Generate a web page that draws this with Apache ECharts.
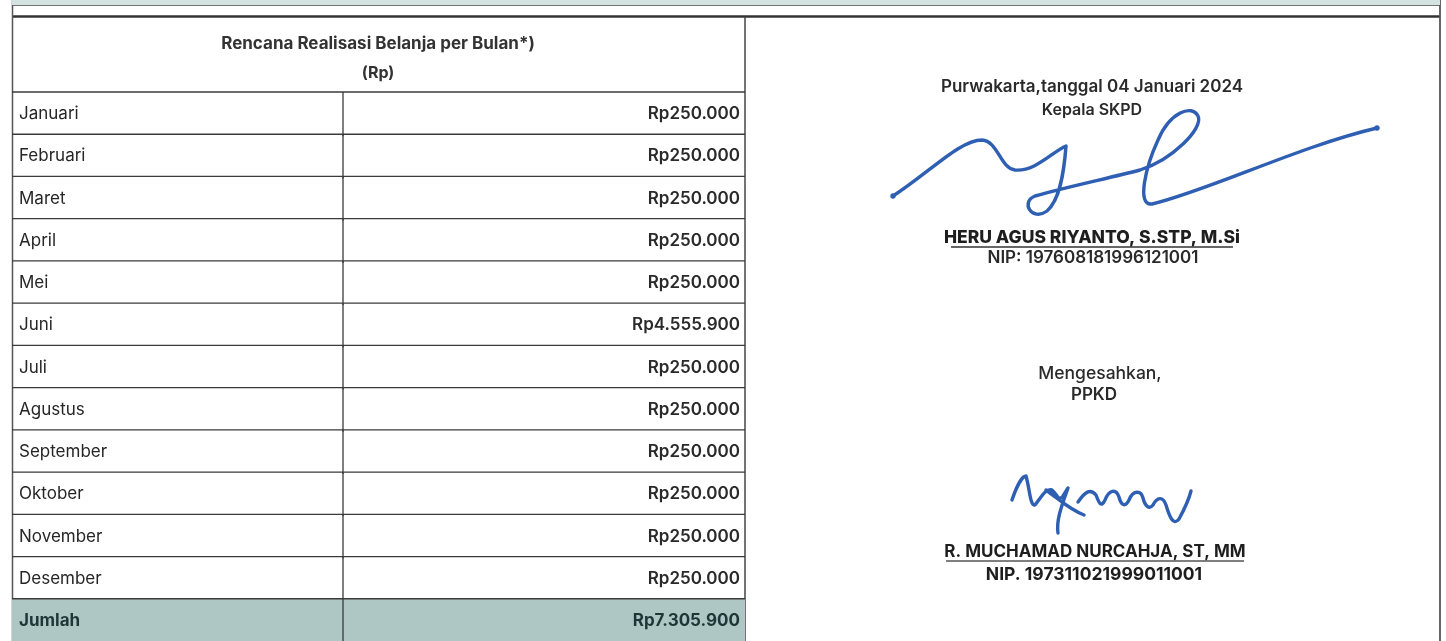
<!DOCTYPE html>
<html><head><meta charset="utf-8">
<script src="https://cdn.jsdelivr.net/npm/echarts@6/dist/echarts.min.js"></script>
<style>html,body{margin:0;padding:0;background:#fff}#c{width:1446px;height:641px}</style>
</head><body><div id="c"></div>
<script>
// ---- data ----
const months = ['Januari','Februari','Maret','April','Mei','Juni','Juli','Agustus','September','Oktober','November','Desember'];
const monthlyValues = [250000,250000,250000,250000,250000,4555900,250000,250000,250000,250000,250000,250000];
const totalLabel = 'Jumlah';
const totalValue = 7305900;
const headerTitle = 'Rencana Realisasi Belanja per Bulan*)';
const headerUnit = '(Rp)';
const place = 'Purwakarta,tanggal 04 Januari 2024';
const role1 = 'Kepala SKPD';
const name1 = 'HERU AGUS RIYANTO, S.STP, M.Si';
const nip1 = 'NIP: 197608181996121001';
const approve = 'Mengesahkan,';
const role2 = 'PPKD';
const name2 = 'R. MUCHAMAD NURCAHJA, ST, MM';
const nip2 = 'NIP. 197311021999011001';

const rows = months.concat([totalLabel]);
const values = monthlyValues.concat([totalValue]);

function rp(v){ return 'Rp' + String(v).replace(/\B(?=(\d{3})+(?!\d))/g, '.'); }

const FONT = 'Inter, Roboto, "Noto Sans", sans-serif';
const LINE = '#3a3a3a';
const INK = '#2f5fb3';
const chart = echarts.init(document.getElementById('c'), null, {renderer:'canvas'});

const colFrac = 331/733;
const sig1 = 'M893,196 C930,172 960,140 982,140 C998,141 1000,168 1015,170 C1035,172 1052,152 1066,146 C1064,172 1060,200 1047,211 C1032,222 1020,202 1035,196 C1070,186 1110,178 1140,170 C1172,160 1204,128 1198,116 C1192,104 1170,112 1158,140 C1146,166 1136,206 1152,204 C1205,192 1300,146 1377,128';
const sig2 = 'M1012,500 C1016,488 1022,476 1026,476 C1030,490 1030,506 1035,505 C1041,498 1045,488 1052,490 C1058,495 1058,502 1063,496 L1068,488 C1062,505 1056,520 1058,533 M1046,490 C1060,500 1070,510 1084,515 M1078,502 C1085,492 1090,488 1096,495 C1099,503 1101,508 1105,500 C1109,490 1116,488 1119,497 C1121,505 1125,508 1129,500 C1133,490 1141,490 1143,498 C1145,506 1149,510 1153,505 C1157,497 1163,496 1166,505 C1169,515 1173,527 1179,519 C1185,508 1189,499 1191,491';

chart.setOption({
  backgroundColor:'#ffffff',
  animation:false,
  grid:{left:12, top:92, width:733, bottom:-1},
  xAxis:{type:'value', min:0, max:1, show:false},
  yAxis:{type:'category', data:rows, inverse:true, show:false},
  series:[{
    type:'custom',
    data: values.map((v,i)=>[0, i, v]),
    encode:{x:0, y:1},
    renderItem(params, api){
      const cs = params.coordSys;
      const i = api.value(1);
      const c = api.coord([0, i]);
      const h = api.size([0, 1])[1];
      const top = c[1] - h/2, bot = c[1] + h/2;
      const isTotal = i === rows.length - 1;
      const xDiv = cs.x + cs.width*colFrac;
      const xR = cs.x + cs.width;
      const ch = [];
      if (isTotal) ch.push({type:'rect', shape:{x:cs.x, y:top, width:cs.width, height:h+2}, style:{fill:'#aec7c5'}});
      ch.push({type:'line', shape:{x1:cs.x, y1:top, x2:xR, y2:top}, style:{stroke:LINE, lineWidth:1.3}});
      ch.push({type:'line', shape:{x1:xDiv, y1:top, x2:xDiv, y2:bot+2}, style:{stroke:LINE, lineWidth:1.3}});
      ch.push({type:'text', style:{text:rows[i], x:cs.x+7, y:c[1]+1, verticalAlign:'middle', align:'left',
        font:(isTotal?'bold ':'normal ')+'17px '+FONT, fill:isTotal?'#1f3636':'#262626'}});
      ch.push({type:'text', style:{text:rp(api.value(2)), x:xR-5, y:c[1]+1, verticalAlign:'middle', align:'right',
        font:(isTotal?'bold ':'600 ')+'17px '+FONT, fill:isTotal?'#1f3636':'#2a2a2a'}});
      return {type:'group', children:ch};
    }
  },{
    type:'custom',
    coordinateSystem:'none',
    data:[0],
    silent:true,
    renderItem(){
      const st = {fill:null, stroke:INK, lineWidth:3.4, lineCap:'round', lineJoin:'round'};
      return {type:'group', children:[
        {type:'path', shape:{pathData:sig1}, style:st},
        {type:'circle', shape:{cx:893, cy:196, r:2.7}, style:{fill:INK}},
        {type:'circle', shape:{cx:1377, cy:128, r:2.7}, style:{fill:INK}},
        {type:'path', shape:{pathData:sig2}, style:st}
      ]};
    }
  }],
  graphic:[
    {type:'rect', shape:{x:12, y:0, width:1428, height:5}, style:{fill:'#d3e3df'}, z:1},
    {type:'line', shape:{x1:12, y1:5, x2:1440, y2:5}, style:{stroke:'#444', lineWidth:1.5}},
    {type:'line', shape:{x1:1316, y1:0, x2:1316, y2:5}, style:{stroke:'#444', lineWidth:1.2}},
    {type:'line', shape:{x1:12, y1:16.5, x2:1440, y2:16.5}, style:{stroke:'#333', lineWidth:2.5}},
    {type:'line', shape:{x1:12.5, y1:0, x2:12.5, y2:641}, style:{stroke:'#555', lineWidth:1.5}},
    {type:'line', shape:{x1:1440, y1:0, x2:1440, y2:641}, style:{stroke:'#555', lineWidth:1.8}},
    {type:'line', shape:{x1:745, y1:17, x2:745, y2:641}, style:{stroke:'#444', lineWidth:1.5}},
    {type:'text', style:{text:headerTitle, x:378, y:44, align:'center', verticalAlign:'middle', font:'bold 17px '+FONT, fill:'#333'}},
    {type:'text', style:{text:headerUnit, x:378, y:73, align:'center', verticalAlign:'middle', font:'bold 16px '+FONT, fill:'#333'}},

    {type:'text', style:{text:place, x:1092, y:87, align:'center', verticalAlign:'middle', font:'600 17px '+FONT, fill:'#2a2a2a'}},
    {type:'text', style:{text:role1, x:1092, y:110, align:'center', verticalAlign:'middle', font:'600 16px '+FONT, fill:'#2a2a2a'}},
    {type:'text', style:{text:name1, x:1092, y:238, align:'center', verticalAlign:'middle', font:'800 17.5px '+FONT, fill:'#1e1e1e'}},
    {type:'line', shape:{x1:951, y1:247, x2:1233, y2:247}, style:{stroke:'#333', lineWidth:1.4}},
    {type:'text', style:{text:nip1, x:1093, y:258, align:'center', verticalAlign:'middle', font:'600 17px '+FONT, fill:'#2a2a2a'}},

    {type:'text', style:{text:approve, x:1100, y:374, align:'center', verticalAlign:'middle', font:'500 17.5px '+FONT, fill:'#2a2a2a'}},
    {type:'text', style:{text:role2, x:1094, y:395, align:'center', verticalAlign:'middle', font:'600 17px '+FONT, fill:'#2a2a2a'}},
    {type:'text', style:{text:name2, x:1095, y:552, align:'center', verticalAlign:'middle', font:'bold 17px '+FONT, fill:'#1e1e1e'}},
    {type:'line', shape:{x1:946, y1:561, x2:1244, y2:561}, style:{stroke:'#555', lineWidth:1.4}},
    {type:'text', style:{text:nip2, x:1094, y:575, align:'center', verticalAlign:'middle', font:'bold 17.5px '+FONT, fill:'#1e1e1e'}}
  ]
});
</script></body></html>
